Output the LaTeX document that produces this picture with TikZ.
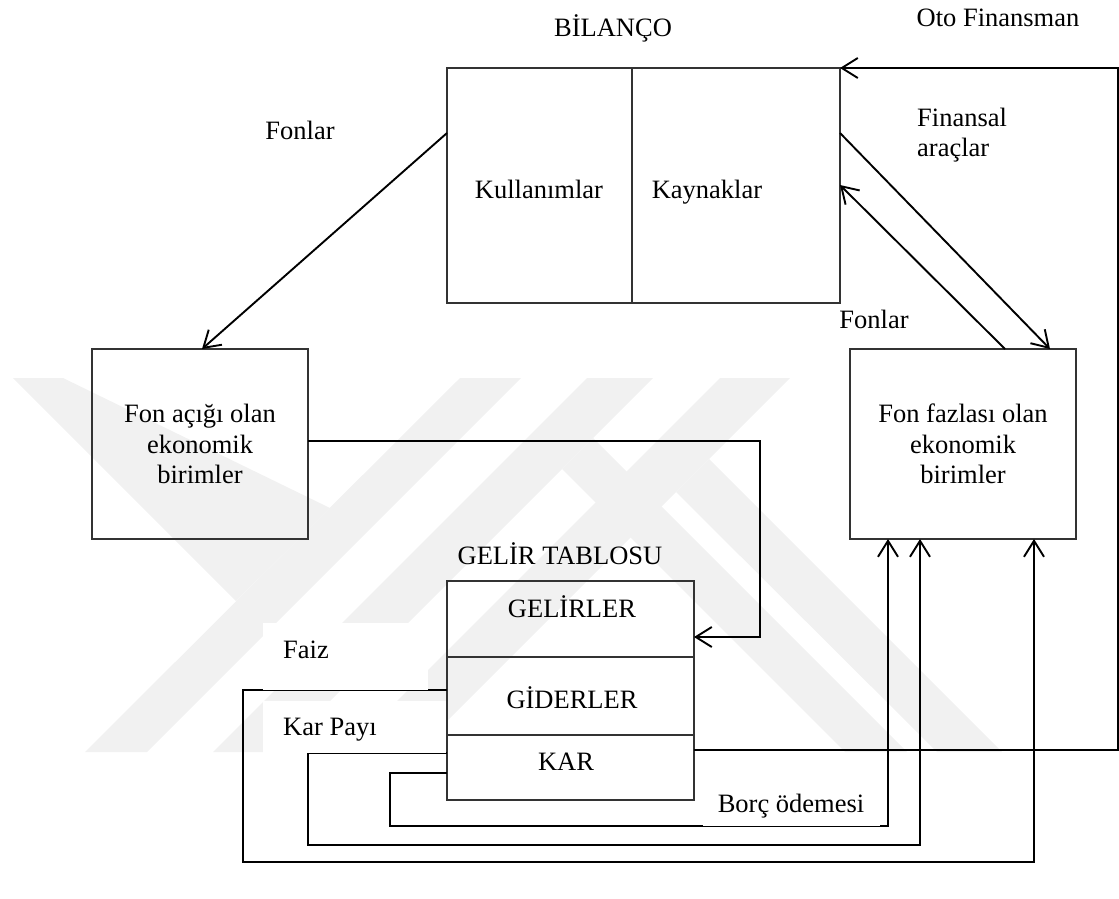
\documentclass[tikz,border=0pt]{standalone}
\usepackage{fontspec}
\setmainfont{Liberation Serif}
\usetikzlibrary{arrows.meta,calc}
\definecolor{wm}{RGB}{241,241,241}
\begin{document}
\begin{tikzpicture}[x=1pt,y=-1pt,
  >={Straight Barb[length=16pt,width=20pt]},
  conn/.style={line width=1.9pt, black},
  box/.style={draw=black!80, line width=1.4pt, inner sep=0pt, outer sep=0pt},
  txt/.style={font=\fontsize{26.5}{30.5}\selectfont, inner sep=0pt},
  bgfill/.style={fill=white, draw=none},
  wmark/.style={fill=wm, draw=none}]
\useasboundingbox (0,0) rectangle (1119,899);

% watermark
\fill[wmark] (13,378) -- (63,378) -- (330,508) -- (236,601) -- cycle;
\fill[wmark] (460,378) -- (521,378) -- (147,752) -- (85,752) -- cycle;
\fill[wmark] (587,378) -- (653,378) -- (279,752) -- (213,752) -- cycle;
\fill[wmark] (720,378) -- (790,378) -- (416,752) -- (346,752) -- cycle;
\fill[wmark] (709,459) -- (1002,752) -- (937,752) -- (676,492) -- cycle;
\fill[wmark] (593,438) -- (907,752) -- (845,752) -- (562,469) -- cycle;

% boxes
\node[box, minimum width=185pt, minimum height=235pt] (kul) at (539.5,185.5) {};
\node[box, minimum width=208pt, minimum height=235pt] (kay) at (736,185.5) {};
\node[box, minimum width=216pt, minimum height=190pt] (lbox) at (200,444) {};
\node[box, minimum width=226pt, minimum height=190pt] (rbox) at (963,444) {};
\node[box, minimum width=247pt, minimum height=76pt] (gel) at (570.5,619) {};
\node[box, minimum width=247pt, minimum height=78pt] (gid) at (570.5,696) {};
\node[box, minimum width=247pt, minimum height=65pt] (kar) at (570.5,767.5) {};

\coordinate (oto) at (1118,68);
\coordinate (fz) at (243,862);
\coordinate (kp) at (308,845);
\coordinate (bo) at (390,826);

% connectors
\draw[conn,->] ($(kul.north west)+(0,65)$) -- ($(lbox.north)+(2,0)$);
\draw[conn,->] ($(kay.north east)+(0,65)$) -- ($(rbox.north west)+(200,0)$);
\draw[conn,->] ($(rbox.north west)+(155,0)$) -- ($(kay.north east)+(0,117)$);
\draw[conn,->] ($(kar.north east)+(0,15)$) -| (oto) -- (kay.north east);
\draw[conn,->] ($(lbox.east)+(0,-3)$) -| ($(gel.east)+(66,18)$) -- ($(gel.east)+(0,18)$);
\draw[conn,->] ($(gid.west)+(0,-6)$) -| (fz) -| ($(rbox.south west)+(184,0)$);
\draw[conn,->] ($(kar.west)+(0,-14.5)$) -| (kp) -| ($(rbox.south west)+(70,0)$);
\draw[conn,->] ($(kar.west)+(0,5.5)$) -| (bo) -| ($(rbox.south west)+(38,0)$);

% label backgrounds
\fill[bgfill] (263,623) rectangle (428,690);
\fill[bgfill] (263,701) rectangle (446,753);
\fill[bgfill] (703,790) rectangle (880,826);

% texts
\node[txt, anchor=base] (tbil) at (613,37) {BİLANÇO};
\node[txt, anchor=base] (toto) at (998,27) {Oto Finansman};
\node[txt, anchor=west, align=left] (tfin) at (917,135) {Finansal\\araçlar};
\node[txt, anchor=base] (tfon1) at (300,139) {Fonlar};
\node[txt, anchor=base] (tfon2) at (874,328) {Fonlar};
\node[txt, anchor=base] (tkul) at (539,198) {Kullanımlar};
\node[txt, anchor=base] (tkay) at (707,198) {Kaynaklar};
\node[txt, align=center] (tl) at (200,444) {Fon açığı olan\\ekonomik\\birimler};
\node[txt, align=center] (tr) at (963,444) {Fon fazlası olan\\ekonomik\\birimler};
\node[txt, anchor=base] (tgt) at (560,564) {GELİR TABLOSU};
\node[txt, anchor=base] (tgel) at (572,617) {GELİRLER};
\node[txt, anchor=base] (tgid) at (572,708) {GİDERLER};
\node[txt, anchor=base] (tkar) at (566,770) {KAR};
\node[txt, anchor=base west] (tfaiz) at (283,658) {Faiz};
\node[txt, anchor=base west] (tkp) at (283,735) {Kar Payı};
\node[txt, anchor=base] (tbo) at (791,812) {Borç ödemesi};
\end{tikzpicture}
\end{document}
